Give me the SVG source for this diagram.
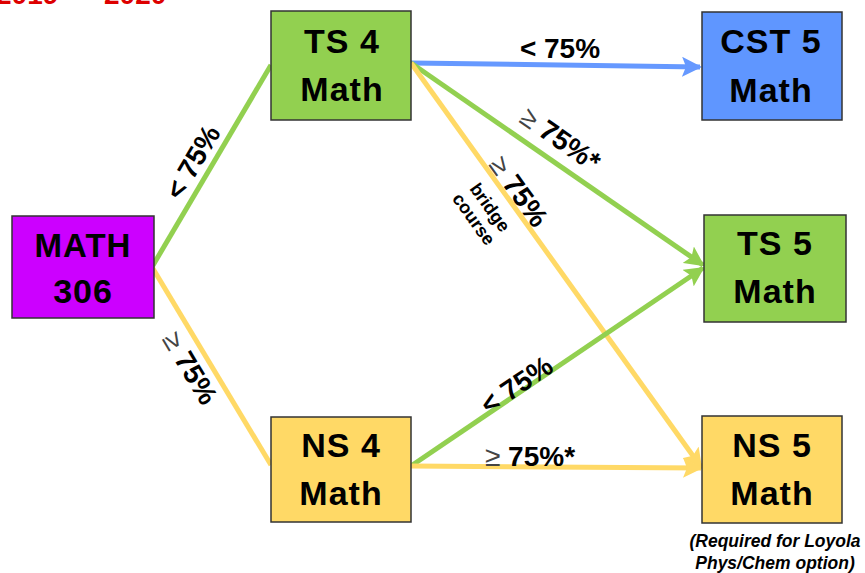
<svg xmlns="http://www.w3.org/2000/svg" width="865" height="573" viewBox="0 0 865 573">
<style>
.box{stroke:#333;stroke-width:1.5}
.bt{font-family:"Liberation Sans",Arial,sans-serif;font-weight:bold;font-size:34px;letter-spacing:1px;fill:#000;text-anchor:middle}
.lbl{font-family:"Liberation Sans",Arial,sans-serif;font-weight:bold;font-size:28px;fill:#000;text-anchor:middle}
.ge{font-weight:normal;fill:#444}
.sm{font-family:"Liberation Sans",Arial,sans-serif;font-weight:bold;font-size:18px;fill:#000;text-anchor:middle}
.note{font-family:"Liberation Sans",Arial,sans-serif;font-weight:bold;font-style:italic;font-size:17.5px;fill:#000;text-anchor:middle}
.c{fill:none;stroke-width:5}
.g{stroke:#92D050}.y{stroke:#FFD966}.b{stroke:#6699FF}
</style>
<defs>
<marker id="ag" markerWidth="4" markerHeight="4" refX="3.6" refY="2" orient="auto" markerUnits="strokeWidth"><path d="M0,0 L4,2 L0,4 L0.8,2 Z" fill="#92D050"/></marker>
<marker id="ay" markerWidth="4" markerHeight="4" refX="3.6" refY="2" orient="auto" markerUnits="strokeWidth"><path d="M0,0 L4,2 L0,4 L0.8,2 Z" fill="#FFD966"/></marker>
<marker id="ab" markerWidth="4" markerHeight="4" refX="3.6" refY="2" orient="auto" markerUnits="strokeWidth"><path d="M0,0 L4,2 L0,4 L0.8,2 Z" fill="#6699FF"/></marker>
</defs>
<text font-family="Liberation Sans,Arial,sans-serif" font-weight="bold" font-size="28" fill="#DD0000"><tspan x="-4" y="4">2019</tspan><tspan x="72" y="4">–</tspan><tspan x="104" y="4">2020</tspan></text>
<g id="connectors">
<line class="c g" x1="152" y1="267" x2="271" y2="65"/>
<line class="c y" x1="152" y1="267" x2="271" y2="465"/>
<line class="c b" x1="411" y1="63" x2="700" y2="67" marker-end="url(#ab)"/>
<line class="c g" x1="411" y1="63" x2="703" y2="265" marker-end="url(#ag)"/>
<line class="c y" x1="411" y1="63" x2="701" y2="467" marker-end="url(#ay)"/>
<line class="c g" x1="411" y1="466" x2="703" y2="268" marker-end="url(#ag)"/>
<line class="c y" x1="411" y1="466" x2="701" y2="468" marker-end="url(#ay)"/>
</g>
<g id="labels">
<text class="lbl" transform="translate(201,167) rotate(-59.5)">&lt; 75%</text>
<text class="lbl" transform="translate(182,373) rotate(59)"><tspan class="ge">≥</tspan> 75%</text>
<text class="lbl" x="560" y="58">&lt; 75%</text>
<text class="lbl" transform="translate(555,147) rotate(34.6)"><tspan class="ge">≥</tspan> 75%*</text>
<text class="lbl" transform="translate(511,197) rotate(54.3)"><tspan class="ge">≥</tspan> 75%</text>
<text class="sm" transform="translate(485,211) rotate(54.3)"><tspan x="0" y="0">bridge</tspan><tspan x="0" y="20">course</tspan></text>
<text class="lbl" transform="translate(522,393) rotate(-34)">&lt; 75%</text>
<text class="lbl" x="530" y="466"><tspan class="ge">≥</tspan> 75%*</text>
</g>
<g id="math306"><rect class="box" x="12" y="216" width="142" height="102" fill="#CC00FF"/><text class="bt" x="83" y="257" style="font-size:33px">MATH</text><text class="bt" x="83" y="303">306</text></g>
<g id="ts4"><rect class="box" x="271" y="11" width="140" height="109" fill="#92D050"/><text class="bt" x="342" y="53">TS 4</text><text class="bt" x="342" y="101">Math</text></g>
<g id="ns4"><rect class="box" x="271" y="417" width="140" height="105" fill="#FFD966"/><text class="bt" x="341" y="457">NS 4</text><text class="bt" x="341" y="505">Math</text></g>
<g id="cst5"><rect class="box" x="702" y="12" width="140" height="108" fill="#5F96FF"/><text class="bt" x="771" y="53">CST 5</text><text class="bt" x="771" y="102">Math</text></g>
<g id="ts5"><rect class="box" x="704" y="215" width="142" height="107" fill="#92D050"/><text class="bt" x="775" y="255">TS 5</text><text class="bt" x="775" y="303">Math</text></g>
<g id="ns5"><rect class="box" x="702" y="416" width="140" height="107" fill="#FFD966"/><text class="bt" x="772" y="457">NS 5</text><text class="bt" x="772" y="505">Math</text></g>
<text class="note" x="775" y="547">(Required for Loyola</text>
<text class="note" x="775" y="569">Phys/Chem option)</text>
</svg>
